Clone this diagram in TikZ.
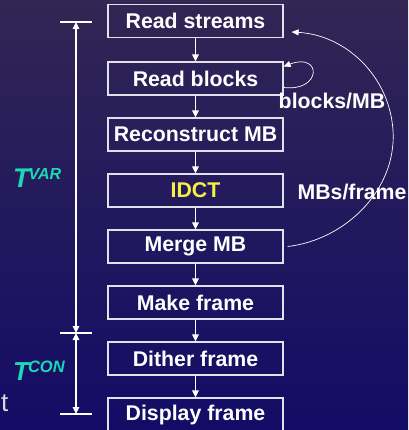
\documentclass[tikz,border=0pt]{standalone}
\usepackage{fontspec}
\setmainfont{Liberation Sans}
\usetikzlibrary{arrows.meta}
\definecolor{bgtop}{RGB}{50,38,84}
\definecolor{bgbot}{RGB}{18,12,102}
\definecolor{tealT}{RGB}{30,215,180}
\definecolor{idctY}{RGB}{245,240,70}
\definecolor{boxline}{RGB}{225,225,235}
\tikzset{
  stepbox/.style={draw=boxline, line width=1.2pt, minimum width=175pt, minimum height=33pt,
    inner sep=0pt, text=white, font=\fontsize{21.3}{24}\selectfont\bfseries},
  flow/.style={draw=white, line width=1.4pt, -{Triangle[length=7pt,width=6.5pt]}},
  thin/.style={draw=white, line width=0.7pt, -{Triangle[length=7pt,width=6pt]}},
  dim/.style={draw=white, line width=1.4pt},
  lab/.style={text=white, font=\fontsize{21.3}{24}\selectfont\bfseries, inner sep=0pt},
}
\begin{document}
\begin{tikzpicture}[x=1pt,y=-1pt]
\useasboundingbox (0,0) rectangle (408,430);
\shade[top color=bgtop, bottom color=bgbot] (0,0) rectangle (408,430);
% boxes
\node[stepbox] (rs) at (195.5,21) {Read streams};
\node[stepbox] (rb) at (195.5,78.5) {Read blocks};
\node[stepbox] (rc) at (195.5,134.5) {Reconstruct MB};
\node[stepbox, text=idctY] (id) at (195.5,190.5) {IDCT};
\node[stepbox] (mm) at (195.5,246.5) {Merge MB};
\node[stepbox] (mf) at (195.5,302.5) {Make frame};
\node[stepbox] (df) at (195.5,358.5) {Dither frame};
\node[stepbox] (dp) at (195.5,414.5) {Display frame};
% flow arrows
\draw[flow] (rs) -- (rb);
\draw[flow] (rb) -- (rc);
\draw[flow] (rc) -- (id);
\draw[flow] (id) -- (mm);
\draw[flow] (mm) -- (mf);
\draw[flow] (mf) -- (df);
\draw[flow] (df) -- (dp);
% self loop
\draw[thin] ([yshift=-9pt]rb.east) .. controls (322,92) and (322,52) .. ([yshift=12pt]rb.east);
% big feedback
\draw[thin] ([xshift=4pt]mm.east) .. controls (345,240) and (397,190) .. (393,130)
  .. controls (389,75) and (345,35) .. ([xshift=8pt,yshift=-11pt]rs.east);
% labels
\node[lab] (lb) at (332,101) {blocks/MB};
\node[lab] (lm) at (352,192) {MBs/frame};
% dimension lines
\coordinate (t1) at (76,22);
\coordinate (t2) at (76,333);
\coordinate (t3) at (76,414);
\draw[dim] ([xshift=-16pt]t1) -- ([xshift=16pt]t1);
\draw[dim] ([xshift=-16pt]t2) -- ([xshift=16pt]t2);
\draw[dim] ([xshift=-16pt]t3) -- ([xshift=16pt]t3);
\draw[dim, {Triangle[length=7pt,width=6.5pt]}-{Triangle[length=7pt,width=6.5pt]}] (t1) -- (t2);
\draw[dim, {Triangle[length=7pt,width=6.5pt]}-{Triangle[length=7pt,width=6.5pt]}] (t2) -- (t3);
% T labels
\node[anchor=base west, inner sep=0pt, text=tealT, font=\bfseries\itshape] (tv) at (13,188)
  {\fontsize{27}{30}\selectfont T\kern-1pt\raisebox{8pt}{\fontsize{16}{18}\selectfont VAR}};
\node[anchor=base west, inner sep=0pt, text=tealT, font=\bfseries\itshape] (tc) at (13,380)
  {\fontsize{26}{30}\selectfont T\kern-1pt\raisebox{8pt}{\fontsize{16.5}{18}\selectfont CON}};
\node[anchor=base east, inner sep=0pt, text={rgb,255:red,215;green,215;blue,220}, font=\fontsize{26}{28}\selectfont] (tt) at (8.5,411) {t};
\end{tikzpicture}
\end{document}
